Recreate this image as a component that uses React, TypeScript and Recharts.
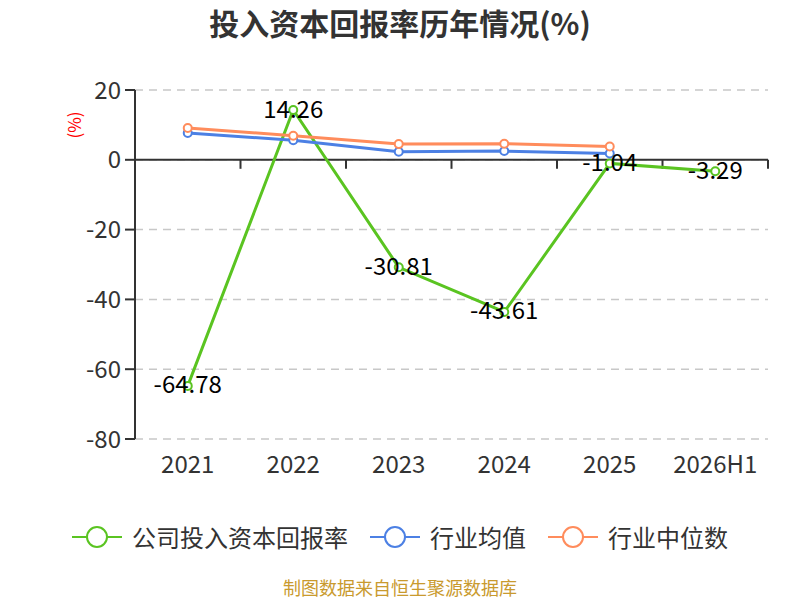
import { CartesianGrid, LabelList, Line, LineChart, ReferenceLine, XAxis, YAxis } from 'recharts';

const years = ['2021', '2022', '2023', '2024', '2025', '2026H1'];
const companyRoic = [-64.78, 14.26, -30.81, -43.61, -1.04, -3.29];
const industryAvg = [7.7, 5.6, 2.3, 2.5, 1.8, null];
const industryMedian = [9.1, 6.9, 4.5, 4.6, 3.8, null];
const yTicks = [-80, -60, -40, -20, 0, 20];

const GREEN = '#5ac421';
const BLUE = '#4c80e4';
const ORANGE = '#ff8c5c';
const FONT = '"Noto Sans CJK SC", "Noto Sans", sans-serif';

const data = years.map((year, i) => ({
  year,
  company: companyRoic[i],
  avg: industryAvg[i],
  median: industryMedian[i],
}));

const legendItems = [
  { name: '公司投入资本回报率', color: GREEN },
  { name: '行业均值', color: BLUE },
  { name: '行业中位数', color: ORANGE },
];

// the zero line doubles as the category axis, ticks between the bands
function ZeroAxis(props: any) {
  const { x1, y1, x2 } = props;
  const step = (x2 - x1) / years.length;
  return (
    <g>
      <line x1={x1} y1={y1} x2={x2} y2={y1} stroke="#333" strokeWidth={2} />
      {Array.from({ length: years.length + 1 }, (_, i) => (
        <line
          key={i}
          x1={x1 + i * step}
          y1={y1}
          x2={x1 + i * step}
          y2={y1 + 9}
          stroke="#333"
          strokeWidth={2}
        />
      ))}
    </g>
  );
}

function ValueLabel(props: any) {
  const { x, y, value } = props;
  return (
    <text
      x={x}
      y={y - 3}
      textAnchor="middle"
      dominantBaseline="central"
      fontSize={24}
      fill="#000"
      fontFamily={FONT}
    >
      {value}
    </text>
  );
}

function LegendIcon({ color }: { color: string }) {
  return (
    <svg width={50} height={24} style={{ marginRight: 10 }}>
      <line x1={0} y1={12} x2={50} y2={12} stroke={color} strokeWidth={2} />
      <circle cx={25} cy={12} r={10} fill="#fff" stroke={color} strokeWidth={2} />
    </svg>
  );
}

export default function App() {
  return (
    <div
      style={{
        position: 'absolute',
        left: 0,
        top: 0,
        width: 800,
        height: 600,
        background: '#fff',
        fontFamily: FONT,
        overflow: 'hidden',
      }}
    >
      <div
        style={{
          position: 'absolute',
          top: 0,
          width: 800,
          textAlign: 'center',
          fontSize: 30,
          fontWeight: 'bold',
          color: '#333',
        }}
      >
        投入资本回报率历年情况(%)
      </div>
      <div
        style={{
          position: 'absolute',
          left: 73,
          top: 125,
          transform: 'translate(-50%, -50%) rotate(-90deg)',
          color: 'red',
          fontSize: 17,
          whiteSpace: 'nowrap',
        }}
      >
        (%)
      </div>
      <div style={{ position: 'absolute', left: 0, top: 0 }}>
        <LineChart
          width={800}
          height={600}
          data={data}
          margin={{ top: 90, right: 32, bottom: 131, left: 75 }}
        >
          <CartesianGrid
            vertical={false}
            stroke="#c8c8c8"
            strokeDasharray="8 6"
            strokeWidth={1.5}
          />
          <XAxis
            dataKey="year"
            scale="band"
            axisLine={false}
            tickLine={false}
            tickMargin={11}
            height={30}
            tick={{ fill: '#333', fontSize: 24, fontFamily: FONT }}
          />
          <YAxis
            width={60}
            domain={[-80, 20]}
            ticks={yTicks}
            interval={0}
            axisLine={{ stroke: '#333', strokeWidth: 2 }}
            tickLine={{ stroke: '#333', strokeWidth: 2 }}
            tickSize={10}
            tickMargin={4}
            tick={{ fill: '#333', fontSize: 24, fontFamily: FONT }}
          />
          <ReferenceLine y={0} shape={ZeroAxis} />
          <Line
            dataKey="company"
            stroke={GREEN}
            strokeWidth={3}
            dot={{ r: 4, fill: '#fff', stroke: GREEN, strokeWidth: 2 }}
            isAnimationActive={false}
          >
            <LabelList dataKey="company" content={ValueLabel} />
          </Line>
          <Line
            dataKey="avg"
            stroke={BLUE}
            strokeWidth={3}
            dot={{ r: 4, fill: '#fff', stroke: BLUE, strokeWidth: 2 }}
            isAnimationActive={false}
          />
          <Line
            dataKey="median"
            stroke={ORANGE}
            strokeWidth={3}
            dot={{ r: 4, fill: '#fff', stroke: ORANGE, strokeWidth: 2 }}
            isAnimationActive={false}
          />
        </LineChart>
      </div>
      <div
        style={{
          position: 'absolute',
          top: 520,
          width: 800,
          display: 'flex',
          justifyContent: 'center',
          alignItems: 'center',
          fontSize: 24,
          color: '#333',
          lineHeight: '34px',
        }}
      >
        {legendItems.map((item, i) => (
          <div
            key={item.name}
            style={{ display: 'flex', alignItems: 'center', marginLeft: i ? 22 : 0 }}
          >
            <LegendIcon color={item.color} />
            <span>{item.name}</span>
          </div>
        ))}
      </div>
      <div
        style={{
          position: 'absolute',
          top: 577,
          width: 800,
          textAlign: 'center',
          fontSize: 18,
          lineHeight: '20px',
          color: '#c99a2e',
        }}
      >
        制图数据来自恒生聚源数据库
      </div>
    </div>
  );
}
